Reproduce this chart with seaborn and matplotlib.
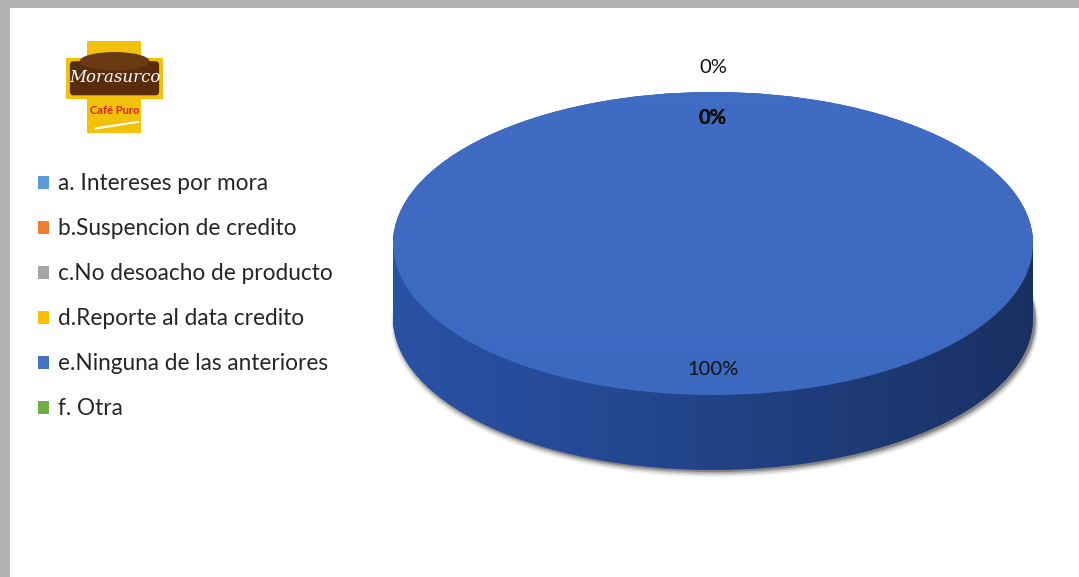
import numpy as np
import matplotlib
matplotlib.use("Agg")
import matplotlib.pyplot as plt
import seaborn as sns
from matplotlib.path import Path
from matplotlib.patches import PathPatch, Rectangle, Ellipse, FancyBboxPatch

# ---- data -------------------------------------------------------------
categories = [
    "a. Intereses por mora",
    "b.Suspencion de credito",
    "c.No desoacho de producto",
    "d.Reporte al data credito",
    "e.Ninguna de las anteriores",
    "f. Otra",
]
percentages = [0, 0, 0, 0, 100, 0]
slice_colors = ["#5b9bd5", "#ed7d31", "#a5a5a5", "#ffc000", "#4472c4", "#70ad47"]

# ---- style ------------------------------------------------------------
sns.set_theme(style="white")
plt.rcParams["font.family"] = ["Lato", "DejaVu Sans"]

W, H = 1079, 577
fig = plt.figure(figsize=(W / 100, H / 100), dpi=100)
fig.patch.set_facecolor("white")

# grey page edges
fig.add_artist(Rectangle((0, 1 - 8 / H), 1, 8 / H, transform=fig.transFigure,
                         facecolor="#b3b3b3", edgecolor="none", zorder=10))
fig.add_artist(Rectangle((0, 0), 10 / W, 1, transform=fig.transFigure,
                         facecolor="#b3b3b3", edgecolor="none", zorder=10))

# ---- pie axes ---------------------------------------------------------
# top ellipse centre at pixel (713, 243.5), x-radius 320 px, y-radius 151.5 px
cx_px, cy_px, rx_px, ry_px = 713.0, 243.5, 320.0, 151.5
ax = fig.add_axes([0, 0, 1, 1])
depth = 75.0 / ry_px

palette = sns.color_palette(slice_colors)
side_palette = [(c[0] * 0.62, c[1] * 0.72, c[2] * 0.85) for c in palette]

def draw_pie(center, colors, z):
    wedges, _ = ax.pie(percentages, colors=colors, startangle=90, counterclock=False,
                       radius=1.0, center=center,
                       wedgeprops=dict(linewidth=0, zorder=z))
    return wedges

# soft shadow hugging the bottom edge of the cake
for grow, dy, alpha in [(0.012, 0.035, 0.06), (0.008, 0.028, 0.10),
                        (0.005, 0.02, 0.16), (0.002, 0.012, 0.25)]:
    ax.add_patch(Ellipse((0.006, -depth - dy), 2 + 2 * grow, 2 + 2 * grow,
                         facecolor="black", alpha=alpha, edgecolor="none", zorder=1))

# side of the cake: stacked copies of the pie
for d in np.linspace(depth, 0.0, 60):
    draw_pie((0, -d), side_palette, 2)

# horizontal shading on the side
t = np.linspace(np.pi, 2 * np.pi, 200)
side_verts = [(-1, 0), (-1, -depth)] + [(np.cos(a), -depth + np.sin(a)) for a in t] + [(1, 0), (-1, 0)]
side_path = Path(side_verts, [Path.MOVETO] + [Path.LINETO] * (len(side_verts) - 2) + [Path.CLOSEPOLY])
side_clip = PathPatch(side_path, facecolor="none", edgecolor="none", transform=ax.transData)
ax.add_patch(side_clip)
xg = np.linspace(0, 1, 256)
shade = np.zeros((1, 256, 4))
shade[..., 3] = 0.02 + 0.40 * xg ** 1.2
im = ax.imshow(shade, extent=(-1, 1, -depth - 1.05, 0.02), aspect="auto", zorder=3,
               interpolation="bilinear")
im.set_clip_path(side_clip)

# top face
top_wedges = draw_pie((0, 0), palette, 4)
top_clip = Ellipse((0, 0), 2, 2, facecolor="none", edgecolor="none", transform=ax.transData)
ax.add_patch(top_clip)
yg = np.linspace(1, 0, 256)
tint = np.zeros((256, 1, 4))
tint[..., :3] = (0.10, 0.25, 0.70)
tint[..., 3] = (0.10 + 0.08 * (1 - yg))[:, None]
im2 = ax.imshow(tint, extent=(-1, 1, -1, 1), aspect="auto", zorder=5, interpolation="bilinear")
im2.set_clip_path(top_clip)

# data labels
total = float(sum(percentages))
start = 90.0
n = len(percentages)
for i, v in enumerate(percentages):
    sweep = 360.0 * v / total
    mid = np.deg2rad(start - sweep / 2)
    start -= sweep
    r = 1.16 if i == n - 1 else 0.83
    weight = "bold" if (v == 0 and i < n - 1) else "normal"
    ax.text(r * np.cos(mid), r * np.sin(mid), f"{v:.0f}%", ha="center", va="center",
            fontsize=14.5, color="#111111", fontweight=weight, zorder=6)

ax.set_xlim(-cx_px / rx_px, (W - cx_px) / rx_px)
ax.set_ylim((cy_px - H) / ry_px, cy_px / ry_px)
ax.set_axis_off()

# ---- legend -----------------------------------------------------------
fig.legend(top_wedges, categories, loc="upper left",
           bbox_to_anchor=(38 / W, 1 - 173.5 / H), frameon=False,
           fontsize=16.3, handlelength=0.48, handleheight=0.48,
           handletextpad=0.4, labelspacing=1.06, borderpad=0, borderaxespad=0)

# ---- brand badge ------------------------------------------------------
lax = fig.add_axes([66 / W, 1 - 133 / H, 97 / W, 92 / H])
lax.set_xlim(0, 1)
lax.set_ylim(0, 1)
lax.set_axis_off()
lax.add_patch(Rectangle((0.22, 0.0), 0.55, 1.0, facecolor="#f2c20a", edgecolor="none"))
lax.add_patch(Rectangle((0.0, 0.37), 1.0, 0.45, facecolor="#f2c20a", edgecolor="none"))
lax.add_patch(FancyBboxPatch((0.04, 0.41), 0.92, 0.37,
                             boxstyle="round,pad=0,rounding_size=0.04",
                             facecolor="#5a2c0e", edgecolor="none"))
lax.add_patch(Ellipse((0.5, 0.78), 0.72, 0.2, facecolor="#6b3a12", edgecolor="none"))
lax.text(0.5, 0.60, "Morasurco", ha="center", va="center", color="white",
         fontsize=12, fontstyle="italic", family=["DejaVu Serif"])
lax.text(0.5, 0.24, "Café Puro", ha="center", va="center", color="#d8202a",
         fontsize=8, fontweight="bold")
arc_t = np.linspace(0.1, 0.9, 50)
lax.plot(0.25 + 0.55 * arc_t, 0.04 + 0.09 * arc_t, color="white", lw=1.5)

fig.savefig("out.png", dpi=100, facecolor="white")
